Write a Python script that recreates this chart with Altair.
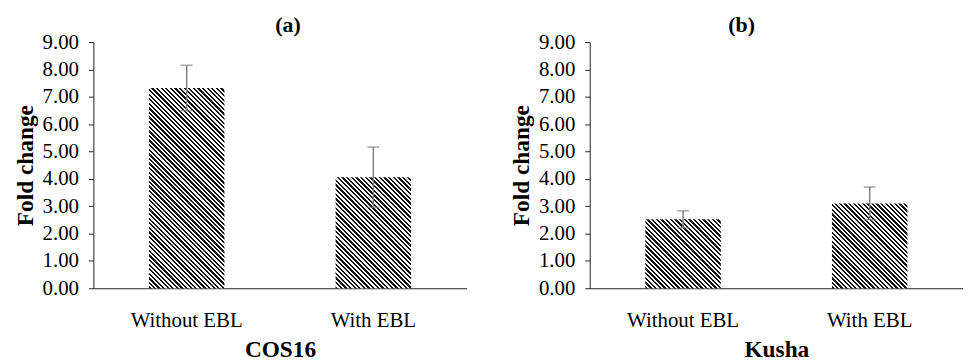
import math
import altair as alt
import pandas as pd

# ---- data ----
categories = ["Without EBL", "With EBL"]
cos16_values = [7.32, 4.06]
cos16_errors = [0.83, 1.10]
kusha_values = [2.52, 3.10]
kusha_errors = [0.31, 0.60]
y_ticks = [0, 1, 2, 3, 4, 5, 6, 7, 8, 9]

# ---- style ----
PLOT_W = 376
PLOT_H = 248
Y_MAX = 9
BAR_W = 76
PERIOD = 3.3          # perpendicular stripe period in px
FONT = "Liberation Serif"
ERR_COLOR = "#808080"
AXIS_COLOR = "#222222"


def hatch(value):
    """Diagonal black/white stripes built from a linear gradient."""
    w = BAR_W
    h = value * PLOT_H / Y_MAX
    k = (w + h) / (w * w + h * h)
    dist = (w + h) / math.sqrt(2)
    n = max(1, round(dist / PERIOD))
    stops = []
    for i in range(n):
        a = i / n
        b = (i + 0.5) / n
        c = (i + 1) / n
        stops += [
            alt.GradientStop(offset=a, color="#111111"),
            alt.GradientStop(offset=b, color="#111111"),
            alt.GradientStop(offset=b, color="#ffffff"),
            alt.GradientStop(offset=c, color="#ffffff"),
        ]
    return alt.LinearGradient(gradient="linear", stops=stops,
                              x1=0, y1=1, x2=k * w, y2=1 - k * h)


def panel(values, errors, letter, group, dx):
    df = pd.DataFrame({"category": categories, "value": values, "err": errors})
    df["lo"] = df["value"] - df["err"]
    df["hi"] = df["value"] + df["err"]

    x = alt.X("category:N",
              scale=alt.Scale(domain=categories, paddingInner=0, paddingOuter=0),
              axis=alt.Axis(title=group, labelAngle=0, ticks=False, tickSize=0,
                            labelFontSize=21, labelPadding=22, titlePadding=7))

    def y(field):
        return alt.Y(f"{field}:Q",
                     scale=alt.Scale(domain=[0, Y_MAX], nice=False, zero=True),
                     axis=alt.Axis(title="Fold change", values=y_ticks, format=".2f",
                                   labelFontSize=21,
                                   tickSize=5, labelPadding=10, titlePadding=5))

    base = alt.Chart(df).encode(x=x)
    layers = []
    for c, v in zip(categories, values):
        layers.append(
            base.transform_filter(alt.datum.category == c)
            .mark_bar(size=BAR_W, color=hatch(v))
            .encode(y=y("value"))
        )
    layers.append(base.mark_rule(color=ERR_COLOR, strokeWidth=1.5)
                  .encode(y=y("lo"), y2="hi:Q"))
    layers.append(base.mark_tick(color=ERR_COLOR, size=12, thickness=1.5)
                  .encode(y=y("hi")))
    layers.append(base.mark_tick(color=ERR_COLOR, size=12, thickness=1.5)
                  .encode(y=y("lo")))

    return alt.layer(*layers).properties(
        width=PLOT_W, height=PLOT_H,
        title=alt.TitleParams(text=letter, font=FONT, fontSize=22, fontWeight="bold",
                              color="black", anchor="middle", dx=dx, offset=-6),
    )


chart = alt.hconcat(
    panel(cos16_values, cos16_errors, "(a)", "COS16", 8),
    panel(kusha_values, kusha_errors, "(b)", "Kusha", -35),
    spacing=43,
).properties(
    padding={"left": 5, "top": 5, "right": 0, "bottom": 0},
).configure_view(
    stroke=None
).configure_axis(
    grid=False,
    domainColor=AXIS_COLOR, domainWidth=1,
    tickColor=AXIS_COLOR, tickWidth=1,
    labelFont=FONT, labelColor="black",
    titleFont=FONT, titleFontSize=23.5, titleFontWeight="bold", titleColor="black",
)

chart.save("out.html", embed_options={"renderer": "svg", "actions": False})
